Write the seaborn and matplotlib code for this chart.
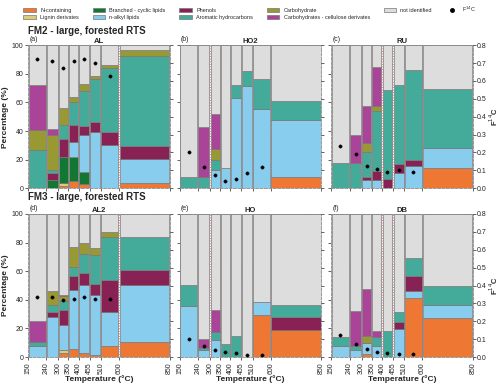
import matplotlib
matplotlib.use("Agg")
import matplotlib.pyplot as plt
import seaborn as sns
import numpy as np
from matplotlib.patches import Patch
from matplotlib.lines import Line2D

# -------------------------------
# Data
# -------------------------------
edges = [150, 240, 300, 350, 400, 455, 510, 600, 850]
tick_labels = ["150", "240", "300", "350", "400", "455", "510", "600", "850"]

categories = ["N-containing", "Lignin derivates", "Branched - cyclic lipids", "n-alkyl lipids",
              "Phenols", "Aromatic hydrocarbons", "Carbohydrate",
              "Carbohydrates - cellulose derivates", "not identified"]
colors = ["#EE7733", "#DDCC77", "#117733", "#88CCEE", "#882255", "#44AA99",
          "#999933", "#AA4499", "#DDDDDD"]

# percentages per temperature step, columns in the order of `categories`
al_pct = [[0, 0, 0, 0, 0, 26.6, 13.9, 31.5, 28],
          [0, 0, 6, 0, 4.7, 1.9, 24.9, 4.2, 58.3],
          [1.5, 2.5, 18, 0, 12.7, 9.3, 12, 0, 44],
          [4.9, 0, 17.1, 10, 12.5, 15.5, 4, 0, 36],
          [3.3, 0, 8.1, 25.6, 6.6, 24.4, 5.2, 0, 26.8],
          [0, 0, 0, 39.4, 6.6, 30, 2.5, 0, 21.5],
          [0, 0, 0, 30.5, 8.5, 45, 2, 0, 14],
          [3.7, 0, 0, 16.6, 9.3, 62.9, 4, 0, 3.5]]
ho2_pct = [[0, 0, 0, 0, 0, 7.9, 0, 0, 92.1],
           [0, 0, 0, 0, 0, 7.9, 0, 35, 57.1],
           [0, 0, 0, 12.6, 0, 7, 8.1, 24, 48.3],
           [0, 0, 0, 14, 0, 0, 0, 0, 86],
           [0, 0, 0, 63.2, 0, 9.3, 0, 0, 27.5],
           [0, 0, 0, 71.5, 0, 10.3, 0, 0, 18.2],
           [0, 0, 0, 55.7, 0, 20.5, 0, 0, 23.8],
           [7.5, 0, 0, 40.5, 0, 12.8, 0, 0, 39.2]]
ru_pct = [[0, 0, 0, 0, 0, 17.7, 0, 0, 82.3],
          [0, 0, 0, 0, 0, 17.3, 0, 20.2, 62.5],
          [0, 0, 0, 5.6, 2.3, 17.5, 5.9, 26.3, 42.4],
          [0, 0, 0, 5.6, 6.3, 41.9, 3.8, 27.2, 15.2],
          [0, 0, 0, 0, 6.3, 62.2, 0, 0, 31.5],
          [0, 0, 0, 10.3, 6.5, 55.2, 0, 0, 28],
          [0, 0, 0, 15.4, 4.2, 62.9, 0, 0, 17.5],
          [14.2, 0, 0, 14, 0, 41.5, 0, 0, 30.3]]
al2_pct = [[0, 0, 0, 7.7, 0, 2.9, 0, 14.8, 74.6],
           [0, 0, 0, 27.7, 4, 4.7, 10.1, 0, 53.5],
           [3, 1.9, 0, 17.6, 10.4, 6.1, 3.5, 1.2, 56.3],
           [5.9, 0, 0, 41.1, 9.6, 6.4, 13.6, 0, 23.4],
           [3, 0, 0, 47.3, 8.7, 13.3, 7.1, 0, 20.6],
           [1.2, 0, 0, 42.3, 7.7, 20.4, 4.7, 0, 23.7],
           [7.7, 0, 0, 24, 22.3, 30.1, 3.1, 0, 12.8],
           [10.8, 0, 0, 39.9, 10.2, 23.2, 0, 0, 15.9]]
ho_pct = [[0, 0, 0, 36, 0, 14.3, 0, 0, 49.7],
          [0, 0, 0, 4.7, 0, 1.9, 0, 5.8, 87.6],
          [0, 0, 0, 11.7, 0, 5.9, 0, 15.5, 66.9],
          [0, 0, 0, 0, 0, 9.4, 0, 0, 90.6],
          [0, 0, 0, 0, 0, 14.8, 0, 0, 85.2],
          [0, 0, 0, 0, 0, 0, 0, 0, 100],
          [29.6, 0, 0, 9.1, 0, 0, 0, 0, 61.3],
          [18.8, 0, 0, 0, 9.4, 8.2, 0, 0, 63.6]]
db_pct = [[0, 0, 0, 7.7, 0, 6.6, 0, 0, 85.7],
          [0, 0, 0, 4.7, 0, 3, 0, 24.7, 67.6],
          [2, 0, 0, 7.6, 0, 0, 5.2, 32.9, 52.3],
          [0, 0, 0, 7.7, 0, 6.6, 0, 4, 81.7],
          [0, 0, 0, 0, 0, 18.3, 0, 0, 81.7],
          [0, 0, 0, 19.5, 5.2, 6.9, 0, 0, 68.4],
          [41.3, 0, 0, 5.2, 9.9, 12.9, 0, 0, 30.7],
          [27.2, 0, 0, 9.2, 0, 13.6, 0, 0, 50]]

# F14C per temperature step (no value for 600-850)
al_f14c = [0.72, 0.71, 0.67, 0.71, 0.725, 0.70, 0.625]
ho2_f14c = [0.20, 0.12, 0.073, 0.039, 0.049, 0.086, 0.12]
ru_f14c = [0.235, 0.19, 0.125, 0.105, 0.088, 0.10, 0.091]
al2_f14c = [0.335, 0.335, 0.32, 0.325, 0.338, 0.323, 0.323]
ho_f14c = [0.10, 0.064, 0.04, 0.03, 0.023, 0.01, 0.013]
db_f14c = [0.125, 0.075, 0.043, 0.03, 0.021, 0.015, 0.015]

panels = [("(a)", "AL", al_pct, al_f14c), ("(b)", "HO2", ho2_pct, ho2_f14c),
          ("(c)", "RU", ru_pct, ru_f14c), ("(d)", "AL2", al2_pct, al2_f14c),
          ("(e)", "HO", ho_pct, ho_f14c), ("(f)", "DB", db_pct, db_f14c)]

# -------------------------------
# Figure
# -------------------------------
sns.set_style("ticks")
plt.rcParams["font.family"] = ["Liberation Sans", "DejaVu Sans"]

fig, axes = plt.subplots(2, 3, figsize=(5.0, 3.86), dpi=100)
fig.subplots_adjust(left=0.056, right=0.946, top=0.883, bottom=0.075,
                    wspace=0.07, hspace=0.18)

lefts = np.array(edges[:-1], dtype=float)
widths = np.diff(edges).astype(float)
mids = lefts + widths / 2
inset = 3.0

for i, (ax, (tag, name, pct, f14c)) in enumerate(zip(axes.flat, panels)):
    pct = np.array(pct, dtype=float)
    for b in edges[1:-1]:
        ax.axvline(b, color="#e08080", ls=":", lw=0.7, zorder=0)
    bottom = np.zeros(len(lefts))
    for ci, col in enumerate(colors):
        h = pct[:, ci]
        m = h > 0
        ax.bar(lefts[m] + inset, h[m], width=widths[m] - 2 * inset, bottom=bottom[m],
               align="edge", color=col, edgecolor="#777777", linewidth=0.5, zorder=2)
        bottom += h

    ax.set_xlim(150, 850)
    ax.set_ylim(0, 100)
    ax.set_xticks(edges)
    ax.set_yticks([0, 20, 40, 60, 80, 100])
    ax.tick_params(length=2, width=0.5, labelsize=5, pad=1.5)
    for s in ax.spines.values():
        s.set_color("#888888")
        s.set_linewidth(0.6)
        s.set_linestyle("--")

    if i < 3:
        ax.set_xticklabels([])
    else:
        ax.set_xticklabels(tick_labels, rotation=90)
        ax.set_xlabel("Temperature (°C)", fontsize=6, fontweight="bold", labelpad=1)
    if i % 3 != 0:
        ax.set_yticklabels([])
    else:
        ax.set_ylabel("Percentage (%)", fontsize=6, fontweight="bold", labelpad=2)

    ax.text(0.01, 1.015, tag, transform=ax.transAxes, fontsize=5, va="bottom")
    ax.set_title(name, fontsize=5.5, fontweight="bold", pad=1.5)

    ax2 = ax.twinx()
    sns.scatterplot(x=mids[:len(f14c)], y=f14c, ax=ax2, color="black", s=6,
                    edgecolor=None, zorder=5)
    ax2.set_ylim(0, 0.8)
    ax2.set_yticks(np.arange(0, 0.81, 0.1))
    ax2.tick_params(length=2, width=0.5, labelsize=5, pad=1)
    for s in ax2.spines.values():
        s.set_visible(False)
    if i % 3 == 2:
        ax2.set_yticklabels([f"{v:.1f}" for v in np.arange(0, 0.81, 0.1)])
        ax2.set_ylabel("F$^{14}$C", fontsize=5.5, fontweight="bold", labelpad=0.5)
    else:
        ax2.set_yticklabels([])

fig.text(0.056, 0.912, "FM2 - large, forested RTS", fontsize=7, fontweight="bold")
fig.text(0.056, 0.482, "FM3 - large, forested RTS", fontsize=7, fontweight="bold")

# -------------------------------
# Legend
# -------------------------------
handles = [Patch(facecolor=c, edgecolor="#777777", linewidth=0.5, label=l)
           for c, l in zip(colors, categories)]
handles.append(Line2D([], [], marker="o", color="black", ls="", markersize=2.5,
                      label="F$^{14}$C"))
fig.legend(handles=handles, loc="upper center", bbox_to_anchor=(0.5, 1.0), ncol=6,
           frameon=False, fontsize=4, handlelength=2.2, handleheight=0.9,
           columnspacing=2.5, labelspacing=0.3)

fig.savefig("out.png", dpi=100)
